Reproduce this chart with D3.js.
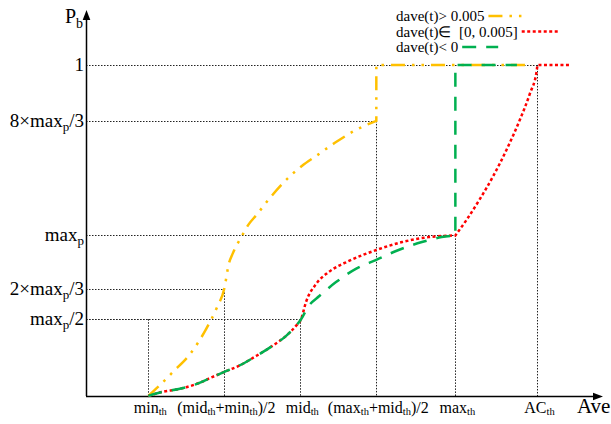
<!DOCTYPE html>
<html>
<head>
<meta charset="utf-8">
<script src="https://cdn.jsdelivr.net/npm/d3@7"></script>
<style>
  body { margin: 0; background: #fff; }
  svg { font-family: "Liberation Serif", "Times New Roman", serif; }
</style>
</head>
<body>
<div id="root"></div>
<script>
// axis tick labels (x: Ave thresholds, y: drop probability)
var xTickLabels = ["min_{th}", "(mid_{th}+min_{th})/2", "mid_{th}", "(max_{th}+mid_{th})/2", "max_{th}", "AC_{th}"];
var xTickValues = [20, 30, 40, 50, 60.4, 71.2];
var yTickLabels = ["max_{p}/2", "2×max_{p}/3", "max_{p}", "8×max_{p}/3", "1"];
var yTickValues = [0.232, 0.322, 0.485, 0.831, 1];

// dotted guide height above each x tick
var guideY = [0.232, 0.322, 0.232, 0.831, 0.485, 1];

var legendLabels = ["dave(t)> 0.005", "dave(t)\u2208  [0, 0.005]", "dave(t)< 0"];

// dave(t) > 0.005
var highCurve = [[20, 0], [21.4, 0.03], [23.25, 0.073], [25.5, 0.127], [27.6, 0.202], [29, 0.266],
  [30, 0.325], [30.6, 0.4], [31.1, 0.43], [32.3, 0.483], [33.25, 0.52], [34.2, 0.546],
  [36.1, 0.601], [37.85, 0.646], [40.2, 0.695], [42.2, 0.727], [44.7, 0.767], [47.1, 0.801], [50, 0.831]];
var highTail = [[50, 1], [70.5, 1]];

// dave(t) in [0, 0.005]
var midCurveA = [[20, 0], [21.8, 0.012], [24, 0.021], [26.3, 0.036], [28.4, 0.057], [30, 0.073],
  [31.9, 0.091], [34.2, 0.121], [36.3, 0.151], [38.1, 0.181], [39.4, 0.211], [40.1, 0.232],
  [40.75, 0.284], [42.06, 0.338], [43.77, 0.375], [46.4, 0.408], [50, 0.441], [53.4, 0.465],
  [56.9, 0.48], [60.4, 0.485]];
var midCurveB = [[60.4, 0.485], [61.9, 0.533], [63.6, 0.594], [65.35, 0.663], [67.2, 0.747],
  [68.9, 0.835], [70.2, 0.913], [71.1, 0.982], [71.2, 1]];
var midTail = [[71.2, 1], [75.4, 1]];

// dave(t) < 0
var lowCurve = [[20, 0], [21.8, 0.012], [24, 0.021], [26.3, 0.036], [28.4, 0.057], [30, 0.073],
  [31.9, 0.091], [34.2, 0.121], [36.3, 0.151], [38.1, 0.181], [39.4, 0.211], [40.1, 0.232],
  [41.1, 0.272], [42.5, 0.302], [44.7, 0.344], [47.3, 0.384], [50, 0.411], [52.6, 0.438],
  [56, 0.465], [58.6, 0.48], [60.4, 0.485]];
var lowTail = [[60.4, 1], [68.5, 1]];

var width = 611, height = 424;
var svg = d3.select("#root").append("svg")
  .attr("width", width)
  .attr("height", height);

var x = d3.scaleLinear().domain([11.8, 79.3]).range([86, 599]);
var y = d3.scaleLinear().domain([0, 1.172]).range([396, 8]);

// text with _{sub} parts
function richText(text, str, size, subSize, drop) {
  var lowered = false;
  str.split(/(_\{[^}]*\})/).filter(function(s) { return s; }).forEach(function(s) {
    var sub = s.indexOf("_{") == 0;
    var t = text.append("tspan").text(sub ? s.slice(2, -1) : s)
      .attr("font-size", sub ? subSize : size);
    if (sub != lowered) { t.attr("dy", sub ? drop : -drop); lowered = sub; }
  });
}

svg.append("defs").append("marker")
  .attr("id", "arrow")
  .attr("viewBox", "0 0 10 10")
  .attr("refX", 2).attr("refY", 5)
  .attr("markerWidth", 10).attr("markerHeight", 10)
  .attr("markerUnits", "userSpaceOnUse")
  .attr("orient", "auto")
  .append("path")
  .attr("d", "M0,1.2 L10,5 L0,8.8 Z")
  .attr("fill", "#000");

// dotted guides
var guides = svg.append("g")
  .attr("fill", "none")
  .attr("stroke", "#222")
  .attr("stroke-width", 1)
  .attr("stroke-dasharray", "1.5,1.5");

xTickValues.forEach(function(v, i) {
  guides.append("line")
    .attr("x1", x.range()[0]).attr("x2", x(v))
    .attr("y1", Math.round(y(guideY[i])) + 0.5).attr("y2", Math.round(y(guideY[i])) + 0.5);
  guides.append("line")
    .attr("x1", Math.round(x(v)) + 0.5).attr("x2", Math.round(x(v)) + 0.5)
    .attr("y1", y(guideY[i])).attr("y2", y(0));
});

// axes
var xAxis = d3.axisBottom(x).tickValues([]).tickSizeOuter(0);
var yAxis = d3.axisLeft(y).tickValues([]).tickSizeOuter(0);

var gx = svg.append("g")
  .attr("transform", "translate(0," + y(0) + ")")
  .call(xAxis);
gx.select(".domain")
  .attr("stroke-width", 1.5)
  .attr("d", "M" + x.range()[0] + ",0.5H" + (x.range()[1] - 4))
  .attr("marker-end", "url(#arrow)");

var gy = svg.append("g")
  .attr("transform", "translate(" + x.range()[0] + ",0)")
  .call(yAxis);
gy.select(".domain")
  .attr("stroke-width", 1.5)
  .attr("d", "M0.5," + y(0) + "V" + (y.range()[1] + 10))
  .attr("marker-end", "url(#arrow)");

// tick labels
xTickValues.forEach(function(v, i) {
  var t = svg.append("text")
    .attr("x", x(v) + 2)
    .attr("y", 413)
    .attr("text-anchor", "middle")
    .attr("fill", "#000");
  richText(t, xTickLabels[i], 16, 10.5, 2);
});

yTickValues.forEach(function(v, i) {
  var t = svg.append("text")
    .attr("x", 84)
    .attr("y", y(v) + 6)
    .attr("text-anchor", "end")
    .attr("fill", "#000");
  richText(t, yTickLabels[i], 19, 13, 4);
});

var pb = svg.append("text").attr("x", 83).attr("y", 23).attr("text-anchor", "end");
richText(pb, "P_{b}", 20, 14, 5);

svg.append("text")
  .attr("x", 577).attr("y", 413)
  .attr("font-size", 21)
  .text("Ave");

// curves
var smooth = d3.line()
  .x(function(d) { return x(d[0]); })
  .y(function(d) { return y(d[1]); })
  .curve(d3.curveMonotoneX);
var straight = d3.line()
  .x(function(d) { return x(d[0]); })
  .y(function(d) { return y(d[1]); });

function joined(parts) {
  return parts.map(function(p, i) {
    var d = p[1] ? smooth(p[0]) : straight(p[0]);
    return i == 0 ? d : d.replace(/^M/, "L");
  }).join("");
}

var series = [
  { color: "#FFC000", dash: "14,7,2.5,7,2.5,7", d: joined([[highCurve, true], [highTail, false]]) },
  { color: "#FF0000", dash: "3,2.5", d: joined([[midCurveA, true], [midCurveB, true], [midTail, false]]) },
  { color: "#00B050", dash: "14,10", d: joined([[lowCurve, true], [lowTail, false]]) }
];

svg.append("g").selectAll("path")
  .data(series)
  .join("path")
  .attr("d", function(d) { return d.d; })
  .attr("fill", "none")
  .attr("stroke", function(d) { return d.color; })
  .attr("stroke-width", 2.5)
  .attr("stroke-dasharray", function(d) { return d.dash; });

// legend
var legend = svg.append("g");
legendLabels.forEach(function(lab, i) {
  var row = legend.append("g").attr("transform", "translate(396," + (21 + i * 15.5) + ")");
  var t = row.append("text").attr("font-size", 15).attr("fill", "#000")
    .attr("xml:space", "preserve")
    .text(lab);
  var len = t.node().getComputedTextLength();
  row.append("line")
    .attr("x1", len + 4).attr("x2", len + 40)
    .attr("y1", -5).attr("y2", -5)
    .attr("stroke", series[i].color)
    .attr("stroke-width", 2.5)
    .attr("stroke-dasharray", series[i].dash);
});
</script>
</body>
</html>
